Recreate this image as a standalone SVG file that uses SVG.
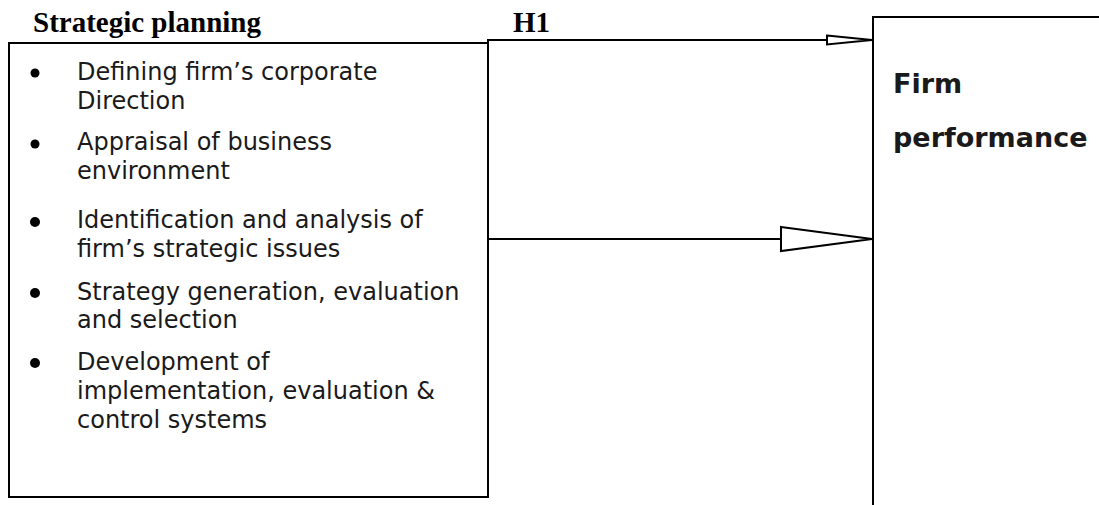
<svg xmlns="http://www.w3.org/2000/svg" width="1099" height="505" viewBox="0 0 1099 505">
<style>
.box{fill:#fff;stroke:#000;stroke-width:2}
.ttl{font-family:"Liberation Serif",serif;font-weight:bold;font-size:29px;fill:#000}
.item{font-family:"DejaVu Sans",sans-serif;font-size:24px;fill:#1a1a1a}
.big{font-family:"DejaVu Sans",sans-serif;font-weight:bold;font-size:27px;fill:#1a1a1a}
.ln{stroke:#000;stroke-width:2;fill:none}
.head{fill:#fff;stroke:#000;stroke-width:2;stroke-linejoin:miter}
</style>
<rect width="1099" height="505" fill="#fff"/>
<g id="strategic-planning">
<text class="ttl" x="33" y="32">Strategic planning</text>
<rect class="box" x="9" y="43" width="479" height="454"/>
<circle cx="35" cy="73" r="4.5"/>
<text class="item" x="77" y="80">Defining firm’s corporate</text>
<text class="item" x="77" y="109">Direction</text>
<circle cx="35" cy="144" r="4.5"/>
<text class="item" x="77" y="150">Appraisal of business</text>
<text class="item" x="77" y="179">environment</text>
<circle cx="35" cy="222" r="5"/>
<text class="item" x="77" y="228">Identification and analysis of</text>
<text class="item" x="77" y="257">firm’s strategic issues</text>
<circle cx="35" cy="293" r="5"/>
<text class="item" x="77" y="300">Strategy generation, evaluation</text>
<text class="item" x="77" y="328">and selection</text>
<circle cx="35" cy="363" r="5"/>
<text class="item" x="77" y="370">Development of</text>
<text class="item" x="77" y="399">implementation, evaluation &amp;</text>
<text class="item" x="77" y="428">control systems</text>
</g>
<g id="firm-performance">
<path class="ln" d="M873 505 V17 H1100"/>
<text class="big" x="893" y="93">Firm</text>
<text class="big" x="893" y="147">performance</text>
</g>
<g id="connectors">
<path class="ln" d="M488 43 V40 H827"/>
<polygon class="head" points="827,35.5 872,40 827,44.5"/>
<text class="ttl" x="513" y="32">H1</text>
<path class="ln" d="M489 239 H781"/>
<polygon class="head" points="781,227 872,239 781,251"/>
</g>
</svg>
